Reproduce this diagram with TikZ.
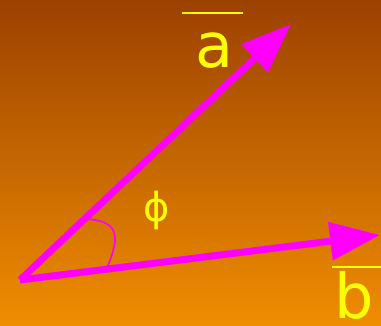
\documentclass[tikz,border=0pt]{standalone}
\usepackage{fontspec}
\setmainfont{DejaVu Sans}
\usetikzlibrary{arrows.meta,calc}
\definecolor{bgtop}{HTML}{9C4100}
\definecolor{bgbottom}{HTML}{EF8D00}
\definecolor{vecmagenta}{HTML}{FF00FF}
\definecolor{lblyellow}{HTML}{FFFF00}
\begin{document}
\begin{tikzpicture}[x=1pt,y=1pt,
    vecarrow/.style={-{Triangle[length=50pt,width=37pt]},draw=vecmagenta,line width=7pt},
    anglearc/.style={draw=vecmagenta,line width=1.7pt},
    veclabel/.style={text=lblyellow,font=\fontsize{62}{62}\selectfont,inner sep=0pt,anchor=base},
    anglelabel/.style={text=lblyellow,font=\fontsize{40}{40}\selectfont,inner sep=0pt},
    vecbar/.style={draw=lblyellow,line width=2pt}
]
\shade[top color=bgtop,bottom color=bgbottom] (0,0) rectangle (381,325);
\useasboundingbox (0,0) rectangle (381,325);
\coordinate (origin) at (20,45);
\coordinate (atip) at (291,301);
\coordinate (btip) at (380,90);
\coordinate (arcstart) at (86,106);
\coordinate (arcend) at (107,57);
\draw[anglearc] (arcstart) .. controls (120,104) and (120,88) .. (arcend);
\draw[vecarrow] (origin)--(atip);
\draw[vecarrow] (origin)--(btip);
\node[anglelabel] (phi) at (157,115) {ϕ};
\node[veclabel] (alabel) at (214,258) {a};
\node[veclabel] (blabel) at (354,7) {b};
\draw[vecbar] ($(alabel.base)+(-32,54)$)--++(61,0);
\draw[vecbar] ($(blabel.base)+(-22,51)$)--++(49,0);
\end{tikzpicture}
\end{document}
